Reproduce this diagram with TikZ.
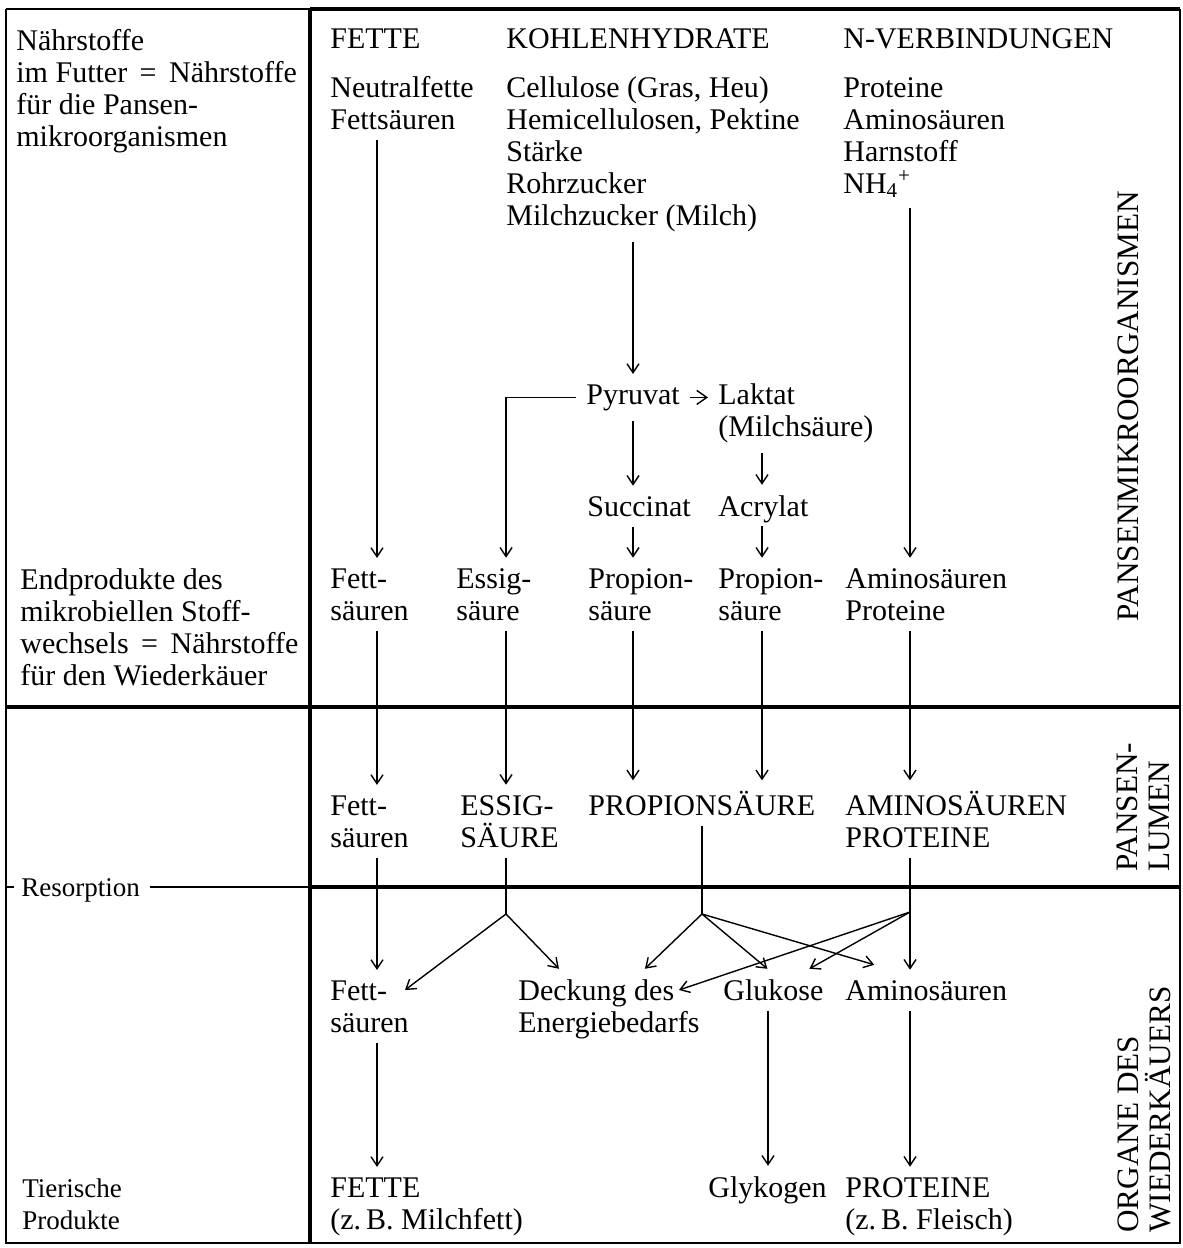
\documentclass[tikz,border=0pt]{standalone}
\usepackage{fontspec}
\setmainfont{Liberation Serif}
\usetikzlibrary{arrows.meta,calc}
\begin{document}
\begin{tikzpicture}[x=0.5pt,y=-0.5pt,
  % base anchor of a multi-line node is the baseline of its last line
  txt/.style={anchor=base west, align=left, inner sep=5pt, xshift=-5pt,
              font=\fontsize{15}{16}\selectfont},
  small/.style={txt, font=\fontsize{13.5}{16}\selectfont},
  side/.style={anchor=base west, align=left, inner sep=0pt, rotate=90,
               font=\fontsize{15.6}{16}\selectfont},
  arr/.style={line width=0.7pt, -{Straight Barb[length=4.5pt,width=6pt]}},
  link/.style={line width=0.7pt},
  thin rule/.style={line width=1.1pt},
  thick rule/.style={line width=1.8pt},
]
\useasboundingbox (0,0) rectangle (1183,1248);

% ---------- frame and zone rules ----------
\coordinate (tl) at (6,9);
\coordinate (tm) at (310,9);
\coordinate (tr) at (1180,9);
\coordinate (bl) at (6,1243);
\coordinate (bm) at (310,1243);
\coordinate (br) at (1180,1243);
\coordinate (ml) at (6,707);
\coordinate (mr) at (1180,707);
\coordinate (rl) at (6,887);
\coordinate (rt) at (14,887);
\coordinate (rm) at (310,887);
\coordinate (rr) at (1180,887);

\draw[thin rule] (tl) -- (tm);
\draw[line width=2pt] (tm) -- (tr);
\draw[thin rule] (tl) -- (bl) -- (br) -- (tr);
\draw[line width=1.6pt] (tm) -- (bm);
\draw[thick rule] (ml) -- (mr);
\draw[thin rule] (rl) -- (rt);
\draw[thick rule] (rm) -- (rr);

% ---------- left column ----------
\node[txt] (lt1) at (16,146) {Nährstoffe\\im Futter \,=\, Nährstoffe\\für die Pansen-\\mikroorganismen};
\node[txt] (lt2) at (20,685) {Endprodukte des\\mikrobiellen Stoff-\\wechsels \,=\, Nährstoffe\\für den Wiederkäuer};
\node[small] (res) at (21,896) {Resorption};
\node[small] (lt3) at (22,1229) {Tierische\\Produkte};
\draw[line width=1.2pt] (res.east |- rm) -- (rm);

% ---------- right-hand zone labels ----------
\node[side] (zpm) at (1138,622) {PANSENMIKROORGANISMEN};
\node[side] (zpl) at (1169,872) {PANSEN-\\LUMEN};
\node[side] (zow) at (1170,1233) {ORGANE DES\\WIEDERKÄUERS};

% ---------- column heads and feed nutrients ----------
\node[txt] (h1) at (330,48) {FETTE};
\node[txt] (h2) at (506,48) {KOHLENHYDRATE};
\node[txt] (h3) at (843,48) {N-VERBINDUNGEN};

\node[txt] (fa) at (330,129) {Neutralfette\\Fettsäuren};
\node[txt] (kh) at (506,225) {Cellulose (Gras, Heu)\\Hemicellulosen, Pektine\\Stärke\\Rohrzucker\\Milchzucker (Milch)};
\node[txt] (nv) at (843,193) {Proteine\\Aminosäuren\\Harnstoff\\NH\textsubscript{4}\textsuperscript{+}};

% ---------- microbial intermediates ----------
\node[txt] (pyr) at (586,404) {Pyruvat};
\node[txt] (lak) at (718,436) {Laktat\\(Milchsäure)};
\node[txt] (suc) at (587,516) {Succinat};
\node[txt, text depth=0pt] (acr) at (718,516) {Acrylat};

% ---------- end products of rumen metabolism ----------
\node[txt] (f2)  at (330,620) {Fett-\\säuren};
\node[txt] (e2)  at (456,620) {Essig-\\säure};
\node[txt] (p2a) at (588,620) {Propion-\\säure};
\node[txt] (p2b) at (718,620) {Propion-\\säure};
\node[txt] (a2)  at (845,620) {Aminosäuren\\Proteine};

% ---------- rumen lumen ----------
\node[txt] (f3) at (330,847) {Fett-\\säuren};
\node[txt] (e3) at (460,847) {ESSIG-\\SÄURE};
\node[txt] (p3) at (588,815) {PROPIONSÄURE};
\node[txt] (a3) at (845,847) {AMINOSÄUREN\\PROTEINE};

% ---------- organs of the ruminant ----------
\node[txt] (f4) at (330,1032) {Fett-\\säuren};
\node[txt] (dk) at (518,1032) {Deckung des\\Energiebedarfs};
\node[txt] (gl) at (723,1000) {Glukose};
\node[txt] (a4) at (845,1000) {Aminosäuren};

% ---------- animal products ----------
\node[txt] (f5) at (330,1229) {FETTE\\(z.\,B. Milchfett)};
\node[txt] (gk) at (708,1197) {Glykogen};
\node[txt] (p5) at (845,1229) {PROTEINE\\(z.\,B. Fleisch)};

% ---------- column positions and branch points ----------
\coordinate (xF) at (377,0);
\coordinate (xE) at (506,0);
\coordinate (xP) at (633,0);
\coordinate (xL) at (762,0);
\coordinate (xN) at (910,0);
\coordinate (xB) at (702,0);
\coordinate (xG) at (768,0);
\coordinate (bE) at (506,914);
\coordinate (bP) at (702,914);
\coordinate (bA) at (910,912);

% ---------- flows inside the rumen microbes ----------
\draw[arr] (fa.south -| xF) -- (f2.north -| xF);
\draw[arr] (kh.south -| xP) -- (pyr.north -| xP);
\draw[arr] (nv.south -| xN) -- (a2.north -| xN);
\draw[line width=0.7pt, -{Straight Barb[length=5pt,width=7pt]}]
  (pyr.east) -- (pyr.east -| lak.west);
\draw[arr] (pyr.west) -| (e2.north -| xE);
\draw[arr] (pyr.south -| xP) -- (suc.north -| xP);
\draw[arr] (lak.south -| xL) -- (acr.north -| xL);
\draw[arr] (suc.south -| xP) -- (p2a.north -| xP);
\draw[arr] (acr.south -| xL) -- (p2b.north -| xL);

% ---------- into the rumen lumen ----------
\draw[arr] (f2.south -| xF)  -- (f3.north -| xF);
\draw[arr] (e2.south -| xE)  -- (e3.north -| xE);
\draw[arr] (p2a.south -| xP) -- (p3.north -| xP);
\draw[arr] (p2b.south -| xL) -- (p3.north -| xL);
\draw[arr] (a2.south -| xN)  -- (a3.north -| xN);

% ---------- resorption into the organs ----------
\draw[arr] (f3.south -| xF) -- (f4.north -| xF);
\draw[link] (e3.south -| xE) -- (bE);
\draw[arr] (bE) -- ([shift={(85,-42)}]f4.base west);
\draw[arr] (bE) -- ([shift={(-50,0)}]dk.north);
\draw[link] (p3.south -| xB) -- (bP);
\draw[arr] (bP) -- ([shift={(36,0)}]dk.north);
\draw[arr] (bP) -- ([shift={(-6,0)}]gl.north);
\draw[arr] (bP) -- ([shift={(-52,-5)}]a4.north);
\draw[arr] (a3.south -| xN) -- (a4.north -| xN);
\draw[arr] (bA) -- ([shift={(36,0)}]gl.north);
\draw[arr] (bA) -- ([shift={(171,-42)}]dk.base west);

% ---------- animal products ----------
\draw[arr] (f4.south -| xF) -- (f5.north -| xF);
\draw[arr] (gl.south -| xG) -- (gk.north -| xG);
\draw[arr] (a4.south -| xN) -- (p5.north -| xN);
\end{tikzpicture}
\end{document}
